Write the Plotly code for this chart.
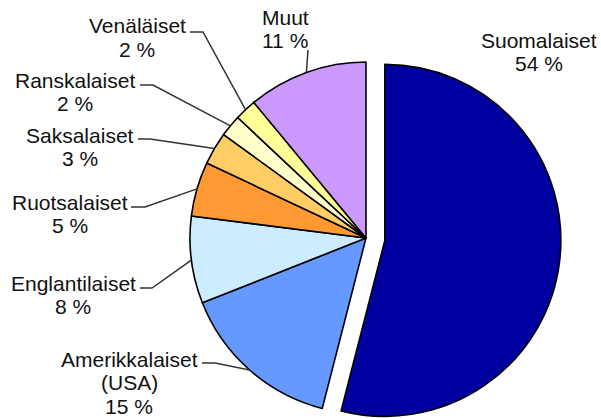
import math
import plotly.graph_objects as go

# ── data ─────────────────────────────────────
labels = ["Suomalaiset", "Amerikkalaiset (USA)", "Englantilaiset", "Ruotsalaiset",
          "Saksalaiset", "Ranskalaiset", "Venäläiset", "Muut"]
values = [54, 15, 8, 5, 3, 2, 2, 11]
colors = ["#0000A0", "#6699FF", "#CCECFF", "#FF9933",
          "#FFCC66", "#FFFFCC", "#FFFF99", "#CC99FF"]

# ── layout (pixels) ──────────────────────────
W, H = 601, 418
CX, CY, R = 366, 238, 176      # pie centre and radius
PULL_PX = 19                   # how far the first slice is pulled out
LINE_STEP = 23.5               # distance between label lines
EDGE = "#000000"
INK = "#111111"
FONT = "Liberation Sans, Arial, sans-serif"

# first label line centre, leader start, leader stub end (None = no leader)
label_pos = {
    "Suomalaiset":          ((539, 40), None, None),
    "Amerikkalaiset (USA)": ((129, 359), (202, 363), (215, 363)),
    "Englantilaiset":       ((73, 283), (140, 288), (152, 288)),
    "Ruotsalaiset":         ((70, 202), (131, 207), (145, 207)),
    "Saksalaiset":          ((80, 135), (138, 139), (150, 139)),
    "Ranskalaiset":         ((75, 80), (140, 85), (153, 85)),
    "Venäläiset":           ((137, 26), (190, 32), (203, 32)),
    "Muut":                 ((285, 17), (308, 50), (308, 50)),
}


def px(x):
    return x / W


def py(y):
    return 1 - y / H


def domain(cx, cy):
    return dict(x=[px(cx - R), px(cx + R)], y=[py(cy + R), py(cy - R)])


# mid angle of every slice, clockwise from 12 o'clock
total = sum(values)
mids, acc = [], 0
for v in values:
    mids.append((acc + v / 2) / total * 2 * math.pi)
    acc += v

clear = "rgba(0,0,0,0)"
fig = go.Figure()

# all slices except the first
fig.add_trace(go.Pie(
    labels=labels, values=values, sort=False, direction="clockwise", rotation=0,
    marker=dict(colors=[clear] + colors[1:],
                line=dict(color=EDGE, width=[0] + [1.6] * (len(values) - 1))),
    textinfo="none", hoverinfo="label+percent", showlegend=False,
    domain=domain(CX, CY),
))

# the pulled-out first slice
dx = PULL_PX * math.sin(mids[0])
dy = -PULL_PX * math.cos(mids[0])
fig.add_trace(go.Pie(
    labels=labels, values=values, sort=False, direction="clockwise", rotation=0,
    marker=dict(colors=[colors[0]] + [clear] * (len(values) - 1),
                line=dict(color=EDGE, width=[1.6] + [0] * (len(values) - 1))),
    textinfo="none", hoverinfo="label+percent", showlegend=False,
    domain=domain(CX + dx, CY + dy),
))

annotations, shapes = [], []
for name, v, a in zip(labels, values, mids):
    (lx, ly), start, stub = label_pos[name]
    lines = name.replace(" (", "\n(").split("\n") + [f"{v} %"]
    for i, line in enumerate(lines):
        annotations.append(dict(
            x=px(lx), y=py(ly + i * LINE_STEP), xref="paper", yref="paper",
            text=line, showarrow=False, xanchor="center", yanchor="middle",
            font=dict(family=FONT, size=21, color=INK),
        ))
    if start is None:
        continue
    ex = CX + R * math.sin(a)
    ey = CY - R * math.cos(a)
    shapes.append(dict(
        type="path", xref="paper", yref="paper",
        path=f"M {px(start[0])},{py(start[1])} L {px(stub[0])},{py(stub[1])} "
             f"L {px(ex)},{py(ey)}",
        line=dict(color="#333333", width=1.5),
    ))

fig.update_layout(
    width=W, height=H,
    margin=dict(l=0, r=0, t=0, b=0),
    paper_bgcolor="white", plot_bgcolor="white",
    annotations=annotations, shapes=shapes,
)
# drop the browser's default 8px body margin so the chart sits at the corner
fig.write_html("out.html", config={"displayModeBar": False},
               post_script="document.body.style.margin = '0';")
